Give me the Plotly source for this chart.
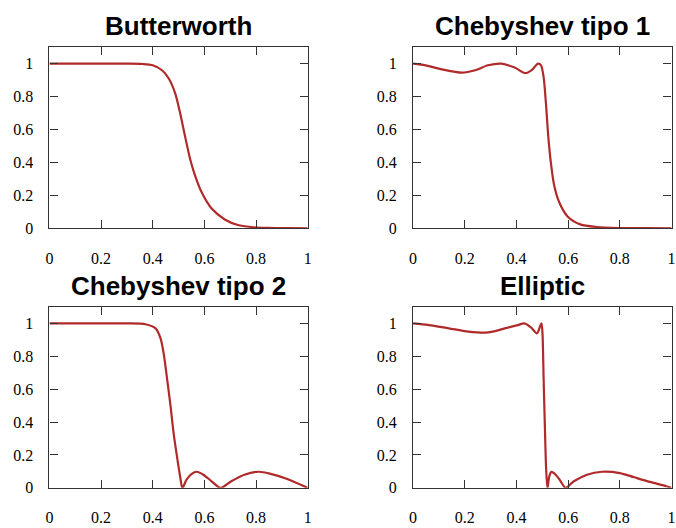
import plotly.graph_objects as go

# ---- data ----
titles = ["Butterworth", "Chebyshev tipo 1", "Chebyshev tipo 2", "Elliptic"]

butter_x = [0, 0.1, 0.2, 0.3, 0.36, 0.4, 0.436, 0.462, 0.487, 0.506, 0.525, 0.545,
            0.564, 0.589, 0.628, 0.679, 0.73, 0.781, 0.85, 0.92, 1.0]
butter_y = [1, 1, 1, 1, 0.998, 0.99, 0.96, 0.91, 0.82, 0.70, 0.56, 0.42,
            0.32, 0.22, 0.12, 0.054, 0.02, 0.008, 0.003, 0.001, 0.0]

cheb1_x = [0, 0.048, 0.112, 0.189, 0.24, 0.29, 0.342, 0.393, 0.435, 0.458, 0.484,
           0.495, 0.505, 0.514, 0.523, 0.533, 0.546, 0.565, 0.597, 0.647, 0.711,
           0.8, 0.9, 1.0]
cheb1_y = [1.0, 0.99, 0.965, 0.945, 0.96, 0.99, 1.0, 0.976, 0.942, 0.96, 1.0,
           0.99, 0.92, 0.76, 0.56, 0.40, 0.26, 0.16, 0.074, 0.024, 0.008,
           0.002, 0.001, 0.0]

cheb2_x = [0, 0.1, 0.2, 0.3, 0.372, 0.411, 0.43, 0.443, 0.455, 0.468, 0.481, 0.494,
           0.506, 0.515, 0.531, 0.551, 0.570, 0.596, 0.628, 0.663, 0.704, 0.755,
           0.81, 0.857, 0.921, 1.0]
cheb2_y = [1, 1, 1, 1, 0.995, 0.97, 0.91, 0.81, 0.67, 0.51, 0.33, 0.19,
           0.07, 0.0, 0.05, 0.085, 0.098, 0.08, 0.04, 0.0, 0.04, 0.08,
           0.098, 0.085, 0.054, 0.0]

ellip_x = [0, 0.061, 0.138, 0.214, 0.29, 0.355, 0.405, 0.431, 0.456, 0.479, 0.492,
           0.497, 0.501, 0.505, 0.510, 0.515, 0.52, 0.527, 0.535, 0.552, 0.571,
           0.59, 0.622, 0.673, 0.73, 0.8, 0.856, 0.92, 0.98, 1.0]
ellip_y = [1.0, 0.99, 0.97, 0.95, 0.945, 0.97, 0.99, 1.0, 0.976, 0.94, 0.985,
           1.0, 0.93, 0.67, 0.37, 0.11, 0.0, 0.07, 0.097, 0.08, 0.04,
           0.0, 0.04, 0.08, 0.098, 0.09, 0.064, 0.035, 0.01, 0.0]

series = [(butter_x, butter_y), (cheb1_x, cheb1_y), (cheb2_x, cheb2_y), (ellip_x, ellip_y)]
tick_vals = [0, 0.2, 0.4, 0.6, 0.8, 1]
tick_text = ["0", "0.2", "0.4", "0.6", "0.8", "1"]

LINE_COLOR = "#b02a2a"
W, H = 676, 528

# plot-area pixel boxes (left, right, top, bottom)
boxes = [(46, 307.3, 48, 232.3), (414, 675.5, 48, 232.3),
         (46, 307.3, 312.3, 496.3), (414, 675.5, 312.3, 496.3)]
title_y_px = [26, 26, 291, 291]

fig = go.Figure()
layout = dict(width=W, height=H, margin=dict(l=0, r=0, t=0, b=0),
              paper_bgcolor="white", plot_bgcolor="white", showlegend=False,
              annotations=[])

for i, ((xs, ys), (l, r, t, b)) in enumerate(zip(series, boxes)):
    n = "" if i == 0 else str(i + 1)
    fig.add_trace(go.Scatter(x=xs, y=ys, mode="lines", xaxis="x" + n, yaxis="y" + n,
                             line=dict(color=LINE_COLOR, width=2.2, shape="spline",
                                       smoothing=0.8),
                             hoverinfo="skip"))
    common = dict(showline=True, linecolor="#333333", linewidth=1.2, mirror="ticks",
                  ticks="inside", ticklen=8, tickwidth=1.2, tickcolor="#333333",
                  showgrid=False, zeroline=False, tickvals=tick_vals, ticktext=tick_text,
                  ticklabeloverflow="allow",
                  tickfont=dict(family="Liberation Serif, Times New Roman, serif",
                                size=16, color="black"))
    layout["xaxis" + n] = dict(common, domain=[l / W, min(r / W, 1)], range=[0, 1],
                               anchor="y" + n, ticklabelstandoff=15)
    layout["yaxis" + n] = dict(common, domain=[(H - b) / H, (H - t) / H], range=[0, 1.1],
                               anchor="x" + n, ticklabelstandoff=12)
    layout["annotations"].append(dict(
        text="<b>%s</b>" % titles[i], x=(l + r) / 2 / W,
        y=(H - title_y_px[i]) / H,
        xref="paper", yref="paper", xanchor="center", yanchor="middle", showarrow=False,
        font=dict(family="Liberation Sans, Arial, sans-serif", size=26, color="black")))

fig.update_layout(**layout)
fig.write_html(
    "out.html",
    config={"displayModeBar": False},
    post_script="document.body.style.margin='0';document.body.style.overflow='hidden';"
                "document.documentElement.style.overflow='hidden';",
)
